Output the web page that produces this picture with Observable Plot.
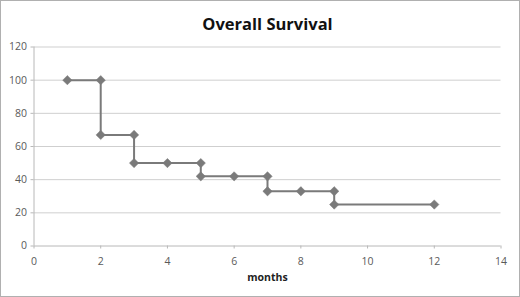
<!DOCTYPE html>
<html><head><meta charset="utf-8">
<script src="https://cdn.jsdelivr.net/npm/d3@7"></script>
<script src="https://cdn.jsdelivr.net/npm/@observablehq/plot@0.6"></script>
<style>
html,body{margin:0;padding:0;background:#fff;}
svg{outline:1px solid #b0b0b0;outline-offset:-1px;}
</style>
</head><body>
<div id="chart"></div>
<script>
const months = [1, 2, 2, 3, 3, 4, 5, 5, 6, 7, 7, 8, 9, 9, 12];
const survival = [100, 100, 67, 67, 50, 50, 50, 42, 42, 42, 33, 33, 33, 25, 25];
const xTicks = [0, 2, 4, 6, 8, 10, 12, 14];
const yTicks = [0, 20, 40, 60, 80, 100, 120];
const title = "Overall Survival";
const xLabel = "months";

const data = months.map((m, i) => ({month: m, survival: survival[i]}));
const gray = "#7a7a7a";

const chart = Plot.plot({
  width: 520,
  height: 297,
  marginTop: 46.5,
  marginBottom: 51.5,
  marginLeft: 33.5,
  marginRight: 19.5,
  style: {fontFamily: "'Open Sans', sans-serif", fontSize: "10px", color: "#555", background: "#fff"},
  x: {domain: [0, 14], ticks: xTicks, label: null},
  y: {domain: [0, 120], ticks: yTicks, label: null},
  marks: [
    Plot.ruleY(yTicks.filter(d => d > 0), {stroke: "#cfcfcf", strokeWidth: 1}),
    Plot.ruleX([0], {stroke: "#b8b8b8"}),
    Plot.ruleY([0], {stroke: "#b8b8b8"}),
    Plot.axisX({ticks: xTicks, tickSize: 3, tickPadding: 9, stroke: "#b8b8b8", fill: "#5a5a5a", fontSize: 10.5}),
    Plot.axisY({ticks: yTicks, tickSize: 3, tickPadding: 4, stroke: "#b8b8b8", fill: "#5a5a5a", fontSize: 10.5}),
    Plot.line(data, {x: "month", y: "survival", stroke: gray, strokeWidth: 2}),
    Plot.dot(data, {x: "month", y: "survival", symbol: "diamond2", r: 4.2, fill: gray, stroke: gray, strokeWidth: 0.5}),
    Plot.text([title], {frameAnchor: "top", dy: -29, fontSize: 16.5, fontWeight: "bold", fill: "#111", fontFamily: "'Open Sans', sans-serif"}),
    Plot.text([xLabel], {frameAnchor: "bottom", dy: 35, fontSize: 10.5, fontWeight: "bold", fill: "#222"})
  ]
});
document.getElementById("chart").appendChild(chart);
</script>
</body></html>
